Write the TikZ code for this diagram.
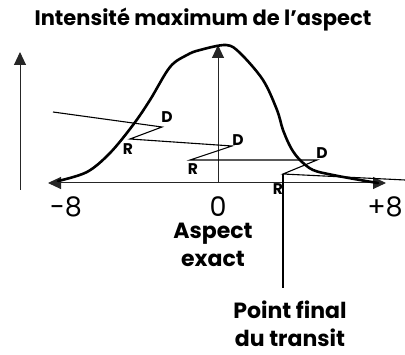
\documentclass[tikz,border=0pt]{standalone}
\usepackage{fontspec}
\setmainfont{Poppins}
\usetikzlibrary{arrows.meta}
\begin{document}
\begin{tikzpicture}[
    x=1pt, y=-1pt,
    axis/.style={line width=1pt, draw=black!85},
    arr/.style={-{Triangle[length=13pt,width=12pt]}},
    curve/.style={line width=2.6pt, line join=round, line cap=round},
    path/.style={line width=1.1pt},
    tag/.style={font=\fontsize{15.5}{16}\selectfont\bfseries, inner sep=0pt},
    tick/.style={font=\fontsize{27}{30}\selectfont, inner sep=0pt},
    label/.style={font=\fontsize{22}{28}\selectfont\bfseries, align=center, inner sep=0pt}
  ]
  \useasboundingbox (0,0) rectangle (405,355);
  % Title
  \node[label, font=\fontsize{21}{24}\selectfont\bfseries] (title) at (203,20) {Intensité maximum de l’aspect};
  % Axes
  \coordinate (vbot) at (20,190);
  \coordinate (vtop) at (20,52);
  \coordinate (xl) at (48,183);
  \coordinate (xr) at (386,183);
  \coordinate (c0) at (218,183);
  \coordinate (ctop) at (218,45);
  \draw[axis, arr] (vbot) -- (vtop);
  \draw[axis, {Triangle[length=13pt,width=12pt]}-{Triangle[length=13pt,width=12pt]}] (xl) -- (xr);
  \draw[axis, arr] (c0) -- (ctop);
  % Intensity curve
  \draw[curve] plot[smooth, tension=0.55] coordinates {
    (58,181) (87,172) (110,153) (133,125) (150,100) (170,67) (187,55)
    (200,50) (226,45) (240,53) (263,80) (277,110) (283,130) (291,148)
    (300,160) (313,170) (333,175) (360,180) (378,183)};
  % Direct / retrograde path
  \coordinate (start) at (53,112);
  \coordinate (d1) at (162,127);
  \coordinate (r1) at (130,139);
  \coordinate (d2) at (232,146);
  \coordinate (r2) at (190,160);
  \coordinate (d3) at (317,160);
  \coordinate (r3) at (283,174);
  \coordinate (end) at (405,180);
  \coordinate (final) at (283,288);
  \draw[path] (start) -- (d1) -- (r1) -- (d2) -- (r2) -- (d3) -- (r3) -- (end);
  \draw[path] (r3) -- (final);
  % Station labels
  \node[tag] (ld1) at (167,117) {D};
  \node[tag] (lr1) at (128,149) {R};
  \node[tag] (ld2) at (238,140) {D};
  \node[tag] (lr2) at (193,169) {R};
  \node[tag] (ld3) at (322,153) {D};
  \node[tag] (lr3) at (278,189) {R};
  % Ticks
  \node[tick] (tm8) at (66,207) {-8};
  \node[tick] (t0) at (218,207) {0};
  \node[tick] (tp8) at (385,207) {+8};
  % Captions
  \node[label] (exact) at (213,245) {Aspect\\exact};
  \node[label] (fin) at (290,324) {Point final\\du transit};
\end{tikzpicture}
\end{document}
